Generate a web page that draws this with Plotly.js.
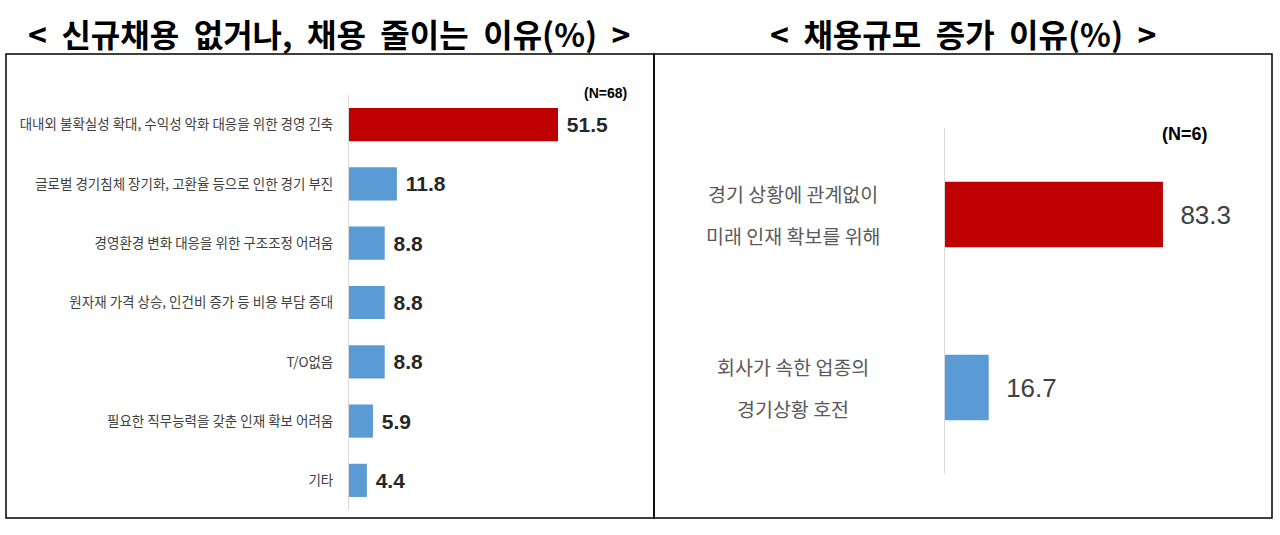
<!DOCTYPE html>
<html>
<head>
<meta charset="utf-8">
<script src="https://cdn.plot.ly/plotly-3.0.1.min.js"></script>
<style>
  body { margin: 0; background: #fff; }
  #plot { width: 1280px; height: 535px; }
</style>
</head>
<body>
<div id="plot"></div>
<script>
// left chart: reasons for no / fewer new hires
var leftLabels = [
    '대내외 불확실성 확대, 수익성 악화 대응을 위한 경영 긴축',
    '글로벌 경기침체 장기화, 고환율 등으로 인한 경기 부진',
    '경영환경 변화 대응을 위한 구조조정 어려움',
    '원자재 가격 상승, 인건비 증가 등 비용 부담 증대',
    'T/O없음',
    '필요한 직무능력을 갖춘 인재 확보 어려움',
    '기타'
];
var leftValues = [51.5, 11.8, 8.8, 8.8, 8.8, 5.9, 4.4];

// right chart: reasons for more hires
var rightLabels = [
    '경기 상황에 관계없이<br>미래 인재 확보를 위해',
    '회사가 속한 업종의<br>경기상황 호전'
];
var rightValues = [83.3, 16.7];

var red = '#C00000', blue = '#5B9BD5';
var W = 1280, H = 535;
function px(x) { return x / W; }
function py(y) { return 1 - y / H; }

var trace_left = {
    type: 'bar',
    orientation: 'h',
    x: leftValues,
    y: leftLabels,
    xaxis: 'x', yaxis: 'y',
    width: 0.56,
    marker: {color: leftValues.map(function(v, i) { return i === 0 ? red : blue; })},
    text: leftValues.map(function(v) { return ' ' + v.toFixed(1); }),
    textposition: 'outside',
    constraintext: 'none',
    cliponaxis: false,
    textfont: {family: 'Liberation Sans Narrow, Liberation Sans, sans-serif', size: 21, color: '#262626', weight: 'bold'},
    hoverinfo: 'none'
};

var trace_right = {
    type: 'bar',
    orientation: 'h',
    x: rightValues,
    y: rightLabels,
    xaxis: 'x2', yaxis: 'y2',
    width: 0.38,
    marker: {color: rightValues.map(function(v, i) { return i === 0 ? red : blue; })},
    text: rightValues.map(function(v) { return '  ' + v.toFixed(1); }),
    textposition: 'outside',
    constraintext: 'none',
    cliponaxis: false,
    textfont: {family: 'Liberation Sans, sans-serif', size: 26, color: '#404040'},
    hoverinfo: 'none'
};

var annotations = [
    {text: '<  신규채용  없거나,  채용  줄이는  이유(%)  >', x: px(329), y: py(33), size: 32},
    {text: '<  채용규모  증가  이유(%)  >', x: px(963), y: py(33), size: 32}
].map(function(a) {
    return {
        text: a.text, x: a.x, y: a.y, xref: 'paper', yref: 'paper',
        showarrow: false, xanchor: 'center', yanchor: 'middle',
        font: {family: 'Noto Sans CJK KR', size: a.size, color: '#000', weight: 'bold'}
    };
});

annotations.push({
    text: '(N=68)', x: px(605), y: py(83), xref: 'paper', yref: 'paper', showarrow: false,
    font: {family: 'Liberation Sans Narrow, Liberation Sans', size: 14, color: '#000', weight: 'bold'}
});
annotations.push({
    text: '(N=6)', x: px(1210), y: py(122), xref: 'paper', yref: 'paper', showarrow: false,
    font: {family: 'Liberation Sans', size: 18, color: '#000', weight: 'bold'}
});

// two-line labels for the right chart, spaced wider than tick labels allow
rightLabels.forEach(function(lab, i) {
    lab.split('<br>').forEach(function(line, j) {
        annotations.push({
            text: line, x: px(793), y: i, xref: 'paper', yref: 'y2',
            yshift: j === 0 ? 21 : -21,
            showarrow: false, xanchor: 'center', yanchor: 'middle',
            font: {family: 'Noto Sans CJK KR', size: 19.5, color: '#595959'}
        });
    });
});

var shapes = [
    {type: 'rect', xref: 'paper', yref: 'paper', x0: px(6), x1: px(654), y0: py(518), y1: py(54),
     line: {color: '#000', width: 1.5}},
    {type: 'rect', xref: 'paper', yref: 'paper', x0: px(654), x1: px(1272), y0: py(518), y1: py(54),
     line: {color: '#000', width: 1.5}}
];

var layout = {
    width: W, height: H,
    margin: {l: 0, r: 0, t: 0, b: 0},
    paper_bgcolor: '#fff',
    plot_bgcolor: 'rgba(0,0,0,0)',
    showlegend: false,
    xaxis: {domain: [px(349), px(640)], range: [0, 71.7], showgrid: false, zeroline: false,
            showticklabels: false, showline: false, fixedrange: true},
    yaxis: {domain: [py(510), py(95)], range: [6.5, -0.5], showgrid: false, zeroline: false,
            showline: true, linecolor: '#d9d9d9', linewidth: 1, ticks: '',
            ticklabelstandoff: 12,
            tickfont: {family: 'Noto Sans CJK KR', size: 13.5, color: '#404040'}},
    xaxis2: {domain: [px(945), px(1265)], range: [0, 122.3], showgrid: false, zeroline: false,
             showticklabels: false, showline: false, fixedrange: true, anchor: 'y2'},
    yaxis2: {domain: [py(474), py(128)], range: [1.5, -0.5], showgrid: false, zeroline: false,
             showline: true, linecolor: '#d9d9d9', linewidth: 1, ticks: '',
             showticklabels: false, anchor: 'x2'},
    annotations: annotations,
    shapes: shapes
};

Plotly.newPlot('plot', [trace_left, trace_right], layout, {displayModeBar: false, staticPlot: true});
</script>
</body>
</html>
